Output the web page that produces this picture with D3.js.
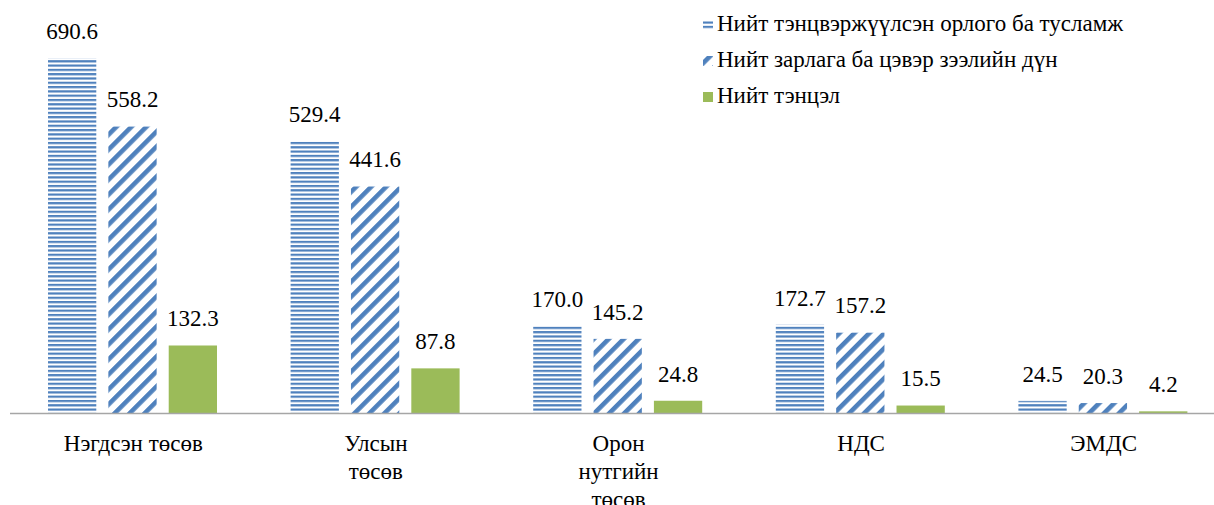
<!DOCTYPE html>
<html>
<head>
<meta charset="utf-8">
<script src="https://cdn.jsdelivr.net/npm/d3@7"></script>
<style>
    body { margin: 0; background: #fff; overflow: hidden; }
    #wrap { position: relative; width: 1214px; height: 505px; overflow: hidden; }
    svg { display: block; position: absolute; left: 0; top: 0; }
    .lbl {
        position: absolute;
        font-size: 23px;
        line-height: 28px;
        color: #000;
        white-space: nowrap;
    }
    .mid { transform: translateX(-50%); text-align: center; }
</style>
</head>
<body>
<div id="wrap"><svg id="chart"></svg></div>
<script>
// категориуд (мөр таслалт \n)
var categories = ["Нэгдсэн төсөв", "Улсын\nтөсөв", "Орон\nнутгийн\nтөсөв", "НДС", "ЭМДС"];
var seriesNames = [
    "Нийт тэнцвэржүүлсэн орлого ба тусламж",
    "Нийт зарлага ба цэвэр зээлийн дүн",
    "Нийт тэнцэл"
];
var revenue = [690.6, 529.4, 170.0, 172.7, 24.5];
var spending = [558.2, 441.6, 145.2, 157.2, 20.3];
var balance = [132.3, 87.8, 24.8, 15.5, 4.2];

var width = 1214;
var height = 505;
var baseOff = 21.7; // мөрийн дээд ирмэгээс суурь шугам хүртэл
var fontFam = "'Liberation Serif', Tinos, 'Times New Roman', Times, serif";

var wrap = d3.select("#wrap");
var svg = d3.select("#chart")
    .attr("width", width)
    .attr("height", height);

// хээ
var defs = svg.append("defs");

var hp = defs.append("pattern")
    .attr("id", "pat0")
    .attr("patternUnits", "userSpaceOnUse")
    .attr("width", 8)
    .attr("height", 4.3);
hp.append("rect").attr("width", 8).attr("height", 4.3).attr("fill", "#fff");
hp.append("rect").attr("y", 0).attr("width", 8).attr("height", 2.2).attr("fill", "#4f81bd");

var dp = defs.append("pattern")
    .attr("id", "pat1")
    .attr("patternUnits", "userSpaceOnUse")
    .attr("width", 10.6)
    .attr("height", 10)
    .attr("patternTransform", "rotate(45)");
dp.append("rect").attr("width", 10.6).attr("height", 10).attr("fill", "#fff");
dp.append("rect").attr("width", 4.6).attr("height", 10).attr("fill", "#4f81bd");

var fills = ["url(#pat0)", "url(#pat1)", "#9bbb59"];
var series = [revenue, spending, balance];

// масштаб
var x0 = d3.scaleBand()
    .domain(d3.range(categories.length))
    .range([11, 1224])
    .paddingInner(0)
    .paddingOuter(0);

var x1 = d3.scaleBand()
    .domain(d3.range(series.length))
    .range([37, 206])
    .paddingInner(0.2);

var y = d3.scaleLinear()
    .domain([0, 700])
    .range([413.5, 53.7]);

var data = [];
categories.forEach(function(c, i) {
    series.forEach(function(s, j) {
        data.push({ cat: i, ser: j, value: s[i] });
    });
});

var bars = svg.append("g");
bars.selectAll("rect")
    .data(data)
    .enter().append("rect")
    .attr("x", function(d) { return x0(d.cat) + x1(d.ser); })
    .attr("y", function(d) { return y(d.value); })
    .attr("width", x1.bandwidth())
    .attr("height", function(d) { return y(0) - y(d.value); })
    .attr("fill", function(d) { return fills[d.ser]; });

// утгын шошго
wrap.selectAll(".val")
    .data(data)
    .enter().append("div")
    .attr("class", "lbl mid val")
    .style("font-family", fontFam)
    .style("left", function(d) { return (x0(d.cat) + x1(d.ser) + x1.bandwidth() / 2) + "px"; })
    .style("top", function(d) { return (y(d.value) - 18.5 - baseOff) + "px"; })
    .text(function(d) { return d3.format(".1f")(d.value); });

// тэнхлэг
var xAxis = d3.axisBottom(x0).tickSize(0).tickFormat("");
var ax = svg.append("g")
    .attr("transform", "translate(0," + y(0) + ")")
    .call(xAxis);
ax.select(".domain").attr("stroke", "#a6a6a6").attr("stroke-width", 1.5)
    .attr("d", "M10,0H1214");

wrap.selectAll(".cat")
    .data(categories)
    .enter().append("div")
    .attr("class", "lbl mid cat")
    .style("font-family", fontFam)
    .style("left", function(d, i) { return (x0(i) + x0.bandwidth() / 2 + 1) + "px"; })
    .style("top", (452 - baseOff) + "px")
    .html(function(d) { return d.split("\n").join("<br>"); });

// тайлбар
var legend = svg.append("g").attr("transform", "translate(703,0)");
legend.selectAll("rect")
    .data(seriesNames)
    .enter().append("rect")
    .attr("x", 0)
    .attr("y", function(d, i) { return 20 + i * 36; })
    .attr("width", 10)
    .attr("height", 10)
    .attr("fill", function(d, i) { return fills[i]; });

wrap.selectAll(".leg")
    .data(seriesNames)
    .enter().append("div")
    .attr("class", "lbl leg")
    .style("font-family", fontFam)
    .style("left", "717px")
    .style("top", function(d, i) { return (32 + i * 36 - baseOff) + "px"; })
    .text(function(d) { return d; });
</script>
</body>
</html>
